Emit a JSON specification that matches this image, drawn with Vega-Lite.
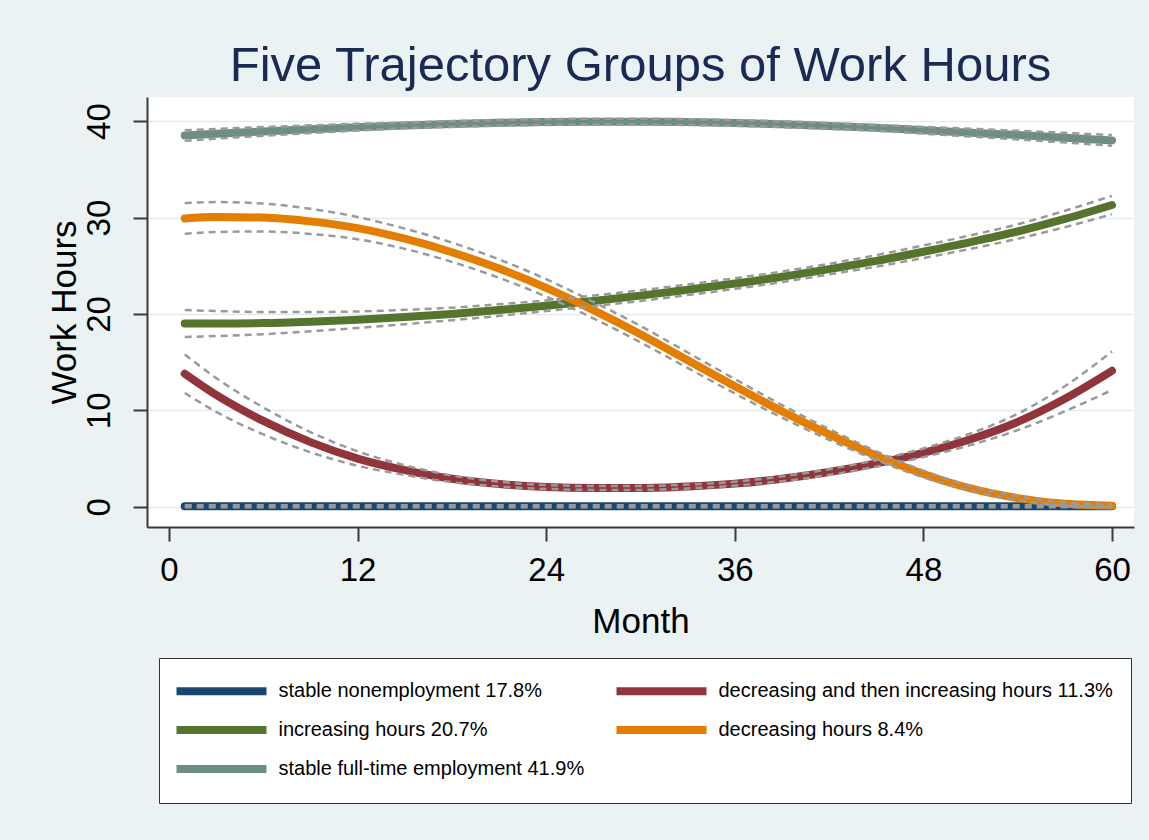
{
  "$schema": "https://vega.github.io/schema/vega-lite/v6.json",
  "width": 987,
  "height": 430,
  "autosize": {"type": "none"},
  "padding": {"left": 147, "top": 97, "right": 15, "bottom": 313},
  "background": "#eaf2f3",
  "title": {"text": "Five Trajectory Groups of Work Hours", "fontSize": 49, "font": "Liberation Sans", "fontWeight": "normal", "color": "#1b2a55", "anchor": "middle", "offset": 6},
  "config": {"view": {"stroke": null, "fill": "white"}, "font": "Liberation Sans"},
  "data": {"values": [
    {"g":"stable nonemployment 17.8%","m":1,"y":0.05,"lo":-0.05,"hi":0.15},
    {"g":"stable nonemployment 17.8%","m":3,"y":0.05,"lo":-0.05,"hi":0.15},
    {"g":"stable nonemployment 17.8%","m":6,"y":0.05,"lo":-0.05,"hi":0.15},
    {"g":"stable nonemployment 17.8%","m":9,"y":0.05,"lo":-0.05,"hi":0.15},
    {"g":"stable nonemployment 17.8%","m":12,"y":0.05,"lo":-0.05,"hi":0.15},
    {"g":"stable nonemployment 17.8%","m":15,"y":0.05,"lo":-0.05,"hi":0.15},
    {"g":"stable nonemployment 17.8%","m":18,"y":0.05,"lo":-0.05,"hi":0.15},
    {"g":"stable nonemployment 17.8%","m":21,"y":0.05,"lo":-0.05,"hi":0.15},
    {"g":"stable nonemployment 17.8%","m":24,"y":0.05,"lo":-0.05,"hi":0.15},
    {"g":"stable nonemployment 17.8%","m":27,"y":0.05,"lo":-0.05,"hi":0.15},
    {"g":"stable nonemployment 17.8%","m":30,"y":0.05,"lo":-0.05,"hi":0.15},
    {"g":"stable nonemployment 17.8%","m":33,"y":0.05,"lo":-0.05,"hi":0.15},
    {"g":"stable nonemployment 17.8%","m":36,"y":0.05,"lo":-0.05,"hi":0.15},
    {"g":"stable nonemployment 17.8%","m":39,"y":0.05,"lo":-0.05,"hi":0.15},
    {"g":"stable nonemployment 17.8%","m":42,"y":0.05,"lo":-0.05,"hi":0.15},
    {"g":"stable nonemployment 17.8%","m":45,"y":0.05,"lo":-0.05,"hi":0.15},
    {"g":"stable nonemployment 17.8%","m":48,"y":0.05,"lo":-0.05,"hi":0.15},
    {"g":"stable nonemployment 17.8%","m":51,"y":0.05,"lo":-0.05,"hi":0.15},
    {"g":"stable nonemployment 17.8%","m":54,"y":0.05,"lo":-0.05,"hi":0.15},
    {"g":"stable nonemployment 17.8%","m":57,"y":0.05,"lo":-0.05,"hi":0.15},
    {"g":"stable nonemployment 17.8%","m":60,"y":0.05,"lo":-0.05,"hi":0.15},

    {"g":"decreasing and then increasing hours 11.3%","m":1,"y":13.8,"lo":11.8,"hi":15.8},
    {"g":"decreasing and then increasing hours 11.3%","m":3,"y":11.6,"lo":9.85,"hi":13.35},
    {"g":"decreasing and then increasing hours 11.3%","m":6,"y":8.9,"lo":7.5,"hi":10.3},
    {"g":"decreasing and then increasing hours 11.3%","m":9,"y":6.7,"lo":5.65,"hi":7.75},
    {"g":"decreasing and then increasing hours 11.3%","m":12,"y":5.0,"lo":4.25,"hi":5.75},
    {"g":"decreasing and then increasing hours 11.3%","m":15,"y":3.8,"lo":3.3,"hi":4.3},
    {"g":"decreasing and then increasing hours 11.3%","m":18,"y":2.9,"lo":2.55,"hi":3.25},
    {"g":"decreasing and then increasing hours 11.3%","m":21,"y":2.35,"lo":2.1,"hi":2.6},
    {"g":"decreasing and then increasing hours 11.3%","m":24,"y":2.05,"lo":1.85,"hi":2.25},
    {"g":"decreasing and then increasing hours 11.3%","m":27,"y":1.95,"lo":1.75,"hi":2.15},
    {"g":"decreasing and then increasing hours 11.3%","m":30,"y":1.95,"lo":1.75,"hi":2.15},
    {"g":"decreasing and then increasing hours 11.3%","m":33,"y":2.1,"lo":1.9,"hi":2.3},
    {"g":"decreasing and then increasing hours 11.3%","m":36,"y":2.4,"lo":2.2,"hi":2.6},
    {"g":"decreasing and then increasing hours 11.3%","m":39,"y":2.9,"lo":2.65,"hi":3.15},
    {"g":"decreasing and then increasing hours 11.3%","m":42,"y":3.6,"lo":3.3,"hi":3.9},
    {"g":"decreasing and then increasing hours 11.3%","m":45,"y":4.5,"lo":4.15,"hi":4.85},
    {"g":"decreasing and then increasing hours 11.3%","m":48,"y":5.6,"lo":5.15,"hi":6.05},
    {"g":"decreasing and then increasing hours 11.3%","m":51,"y":7.0,"lo":6.4,"hi":7.6},
    {"g":"decreasing and then increasing hours 11.3%","m":54,"y":8.8,"lo":7.95,"hi":9.65},
    {"g":"decreasing and then increasing hours 11.3%","m":57,"y":11.2,"lo":9.9,"hi":12.5},
    {"g":"decreasing and then increasing hours 11.3%","m":60,"y":14.1,"lo":12.1,"hi":16.1},

    {"g":"increasing hours 20.7%","m":1,"y":19.0,"lo":17.6,"hi":20.4},
    {"g":"increasing hours 20.7%","m":3,"y":19.0,"lo":17.7,"hi":20.3},
    {"g":"increasing hours 20.7%","m":6,"y":19.05,"lo":17.9,"hi":20.2},
    {"g":"increasing hours 20.7%","m":9,"y":19.2,"lo":18.2,"hi":20.2},
    {"g":"increasing hours 20.7%","m":12,"y":19.4,"lo":18.55,"hi":20.25},
    {"g":"increasing hours 20.7%","m":15,"y":19.68,"lo":18.93,"hi":20.43},
    {"g":"increasing hours 20.7%","m":18,"y":20.0,"lo":19.35,"hi":20.65},
    {"g":"increasing hours 20.7%","m":21,"y":20.4,"lo":19.8,"hi":21.0},
    {"g":"increasing hours 20.7%","m":24,"y":20.85,"lo":20.3,"hi":21.4},
    {"g":"increasing hours 20.7%","m":27,"y":21.35,"lo":20.8,"hi":21.9},
    {"g":"increasing hours 20.7%","m":30,"y":21.9,"lo":21.35,"hi":22.45},
    {"g":"increasing hours 20.7%","m":33,"y":22.5,"lo":21.95,"hi":23.05},
    {"g":"increasing hours 20.7%","m":36,"y":23.15,"lo":22.6,"hi":23.7},
    {"g":"increasing hours 20.7%","m":39,"y":23.85,"lo":23.3,"hi":24.4},
    {"g":"increasing hours 20.7%","m":42,"y":24.65,"lo":24.1,"hi":25.2},
    {"g":"increasing hours 20.7%","m":45,"y":25.5,"lo":24.9,"hi":26.1},
    {"g":"increasing hours 20.7%","m":48,"y":26.45,"lo":25.8,"hi":27.1},
    {"g":"increasing hours 20.7%","m":51,"y":27.45,"lo":26.75,"hi":28.15},
    {"g":"increasing hours 20.7%","m":54,"y":28.55,"lo":27.8,"hi":29.3},
    {"g":"increasing hours 20.7%","m":57,"y":29.85,"lo":29.0,"hi":30.7},
    {"g":"increasing hours 20.7%","m":60,"y":31.3,"lo":30.35,"hi":32.25},

    {"g":"decreasing hours 8.4%","m":1,"y":29.9,"lo":28.3,"hi":31.5},
    {"g":"decreasing hours 8.4%","m":3,"y":30.05,"lo":28.5,"hi":31.6},
    {"g":"decreasing hours 8.4%","m":6,"y":30.0,"lo":28.55,"hi":31.45},
    {"g":"decreasing hours 8.4%","m":9,"y":29.6,"lo":28.3,"hi":30.9},
    {"g":"decreasing hours 8.4%","m":12,"y":28.9,"lo":27.75,"hi":30.05},
    {"g":"decreasing hours 8.4%","m":15,"y":27.8,"lo":26.75,"hi":28.85},
    {"g":"decreasing hours 8.4%","m":18,"y":26.4,"lo":25.4,"hi":27.4},
    {"g":"decreasing hours 8.4%","m":21,"y":24.7,"lo":23.75,"hi":25.65},
    {"g":"decreasing hours 8.4%","m":24,"y":22.7,"lo":21.8,"hi":23.6},
    {"g":"decreasing hours 8.4%","m":27,"y":20.4,"lo":19.55,"hi":21.25},
    {"g":"decreasing hours 8.4%","m":30,"y":17.9,"lo":17.05,"hi":18.75},
    {"g":"decreasing hours 8.4%","m":33,"y":15.2,"lo":14.4,"hi":16.0},
    {"g":"decreasing hours 8.4%","m":36,"y":12.5,"lo":11.75,"hi":13.25},
    {"g":"decreasing hours 8.4%","m":39,"y":9.9,"lo":9.25,"hi":10.55},
    {"g":"decreasing hours 8.4%","m":42,"y":7.5,"lo":6.95,"hi":8.05},
    {"g":"decreasing hours 8.4%","m":45,"y":5.3,"lo":4.85,"hi":5.75},
    {"g":"decreasing hours 8.4%","m":48,"y":3.4,"lo":3.05,"hi":3.75},
    {"g":"decreasing hours 8.4%","m":51,"y":1.9,"lo":1.65,"hi":2.15},
    {"g":"decreasing hours 8.4%","m":54,"y":0.9,"lo":0.7,"hi":1.1},
    {"g":"decreasing hours 8.4%","m":57,"y":0.3,"lo":0.15,"hi":0.45},
    {"g":"decreasing hours 8.4%","m":60,"y":0.1,"lo":-0.05,"hi":0.25},

    {"g":"stable full-time employment 41.9%","m":1,"y":38.5,"lo":37.95,"hi":39.05},
    {"g":"stable full-time employment 41.9%","m":3,"y":38.68,"lo":38.18,"hi":39.18},
    {"g":"stable full-time employment 41.9%","m":6,"y":38.93,"lo":38.48,"hi":39.38},
    {"g":"stable full-time employment 41.9%","m":9,"y":39.16,"lo":38.76,"hi":39.56},
    {"g":"stable full-time employment 41.9%","m":12,"y":39.37,"lo":39.02,"hi":39.72},
    {"g":"stable full-time employment 41.9%","m":15,"y":39.55,"lo":39.25,"hi":39.85},
    {"g":"stable full-time employment 41.9%","m":18,"y":39.7,"lo":39.4,"hi":40.0},
    {"g":"stable full-time employment 41.9%","m":21,"y":39.82,"lo":39.52,"hi":40.12},
    {"g":"stable full-time employment 41.9%","m":24,"y":39.9,"lo":39.6,"hi":40.2},
    {"g":"stable full-time employment 41.9%","m":27,"y":39.94,"lo":39.64,"hi":40.24},
    {"g":"stable full-time employment 41.9%","m":30,"y":39.94,"lo":39.64,"hi":40.24},
    {"g":"stable full-time employment 41.9%","m":33,"y":39.9,"lo":39.6,"hi":40.2},
    {"g":"stable full-time employment 41.9%","m":36,"y":39.81,"lo":39.51,"hi":40.11},
    {"g":"stable full-time employment 41.9%","m":39,"y":39.68,"lo":39.38,"hi":39.98},
    {"g":"stable full-time employment 41.9%","m":42,"y":39.5,"lo":39.2,"hi":39.8},
    {"g":"stable full-time employment 41.9%","m":45,"y":39.3,"lo":39.0,"hi":39.6},
    {"g":"stable full-time employment 41.9%","m":48,"y":39.05,"lo":38.7,"hi":39.4},
    {"g":"stable full-time employment 41.9%","m":51,"y":38.8,"lo":38.4,"hi":39.2},
    {"g":"stable full-time employment 41.9%","m":54,"y":38.55,"lo":38.1,"hi":39.0},
    {"g":"stable full-time employment 41.9%","m":57,"y":38.28,"lo":37.78,"hi":38.78},
    {"g":"stable full-time employment 41.9%","m":60,"y":38.0,"lo":37.45,"hi":38.55}
  ]},
  "encoding": {
    "x": {"field": "m", "type": "quantitative",
      "scale": {"domain": [-1.4, 61.4], "nice": false, "zero": false},
      "axis": {"title": "Month", "values": [0, 12, 24, 36, 48, 60], "grid": false,
        "labelFontSize": 33, "titleFontSize": 35, "titleFontWeight": "normal",
        "labelColor": "black", "titleColor": "black", "labelFont": "Liberation Sans", "titleFont": "Liberation Sans",
        "tickSize": 14, "tickWidth": 2, "tickColor": "#3a3a3a", "domainColor": "#3a3a3a", "domainWidth": 2,
        "labelPadding": 13, "titlePadding": 17, "labelFlush": false}}
  },
  "layer": [
    {
      "mark": {"type": "line", "strokeWidth": 8, "strokeCap": "round", "interpolate": "monotone"},
      "encoding": {
        "y": {"field": "y", "type": "quantitative",
          "scale": {"domain": [-2.1, 42.5], "nice": false, "zero": false},
          "axis": {"title": "Work Hours", "values": [0, 10, 20, 30, 40], "grid": true, "gridColor": "#e2ecef", "gridWidth": 1.5,
            "labelAngle": 270, "labelAlign": "center", "labelBaseline": "bottom",
            "labelFontSize": 33, "titleFontSize": 35, "titleFontWeight": "normal",
            "labelColor": "black", "titleColor": "black", "labelFont": "Liberation Sans", "titleFont": "Liberation Sans",
            "tickSize": 14, "tickWidth": 2, "tickColor": "#3a3a3a", "domainColor": "#3a3a3a", "domainWidth": 2,
            "labelPadding": 17, "titlePadding": 1}},
        "color": {"field": "g", "type": "nominal",
          "scale": {"domain": ["stable nonemployment 17.8%", "decreasing and then increasing hours 11.3%", "increasing hours 20.7%", "decreasing hours 8.4%", "stable full-time employment 41.9%"],
                    "range": ["#1a476f", "#90353b", "#55752f", "#e37e00", "#6e8e84"]},
          "legend": {"orient": "none", "legendX": 12, "legendY": 561, "title": null, "columns": 2, "direction": "horizontal",
            "columnPadding": 16, "rowPadding": 6, "padding": 17.5,
            "strokeColor": "#333333", "fillColor": "white",
            "symbolType": "M-4,0H4", "symbolSize": 506, "symbolStrokeWidth": 8, "symbolOffset": 29.5,
            "labelOffset": 41.5, "labelFontSize": 20, "labelFont": "Liberation Sans", "labelColor": "black", "labelLimit": 600}}
      }
    },
    {
      "mark": {"type": "line", "strokeWidth": 2.5, "strokeDash": [7, 5], "color": "#9a9a9a", "interpolate": "monotone"},
      "encoding": {
        "y": {"field": "lo", "type": "quantitative", "scale": {"domain": [-2.1, 42.5], "nice": false, "zero": false},
          "axis": {"title": "Work Hours", "values": [0, 10, 20, 30, 40], "grid": true, "gridColor": "#e2ecef", "gridWidth": 1.5,
            "labelAngle": 270, "labelAlign": "center", "labelBaseline": "bottom",
            "labelFontSize": 33, "titleFontSize": 35, "titleFontWeight": "normal",
            "labelColor": "black", "titleColor": "black", "labelFont": "Liberation Sans", "titleFont": "Liberation Sans",
            "tickSize": 14, "tickWidth": 2, "tickColor": "#3a3a3a", "domainColor": "#3a3a3a", "domainWidth": 2,
            "labelPadding": 17, "titlePadding": 1}},
        "detail": {"field": "g", "type": "nominal"}
      }
    },
    {
      "mark": {"type": "line", "strokeWidth": 2.5, "strokeDash": [7, 5], "color": "#9a9a9a", "interpolate": "monotone"},
      "encoding": {
        "y": {"field": "hi", "type": "quantitative", "scale": {"domain": [-2.1, 42.5], "nice": false, "zero": false},
          "axis": {"title": "Work Hours", "values": [0, 10, 20, 30, 40], "grid": true, "gridColor": "#e2ecef", "gridWidth": 1.5,
            "labelAngle": 270, "labelAlign": "center", "labelBaseline": "bottom",
            "labelFontSize": 33, "titleFontSize": 35, "titleFontWeight": "normal",
            "labelColor": "black", "titleColor": "black", "labelFont": "Liberation Sans", "titleFont": "Liberation Sans",
            "tickSize": 14, "tickWidth": 2, "tickColor": "#3a3a3a", "domainColor": "#3a3a3a", "domainWidth": 2,
            "labelPadding": 17, "titlePadding": 1}},
        "detail": {"field": "g", "type": "nominal"}
      }
    }
  ]
}
